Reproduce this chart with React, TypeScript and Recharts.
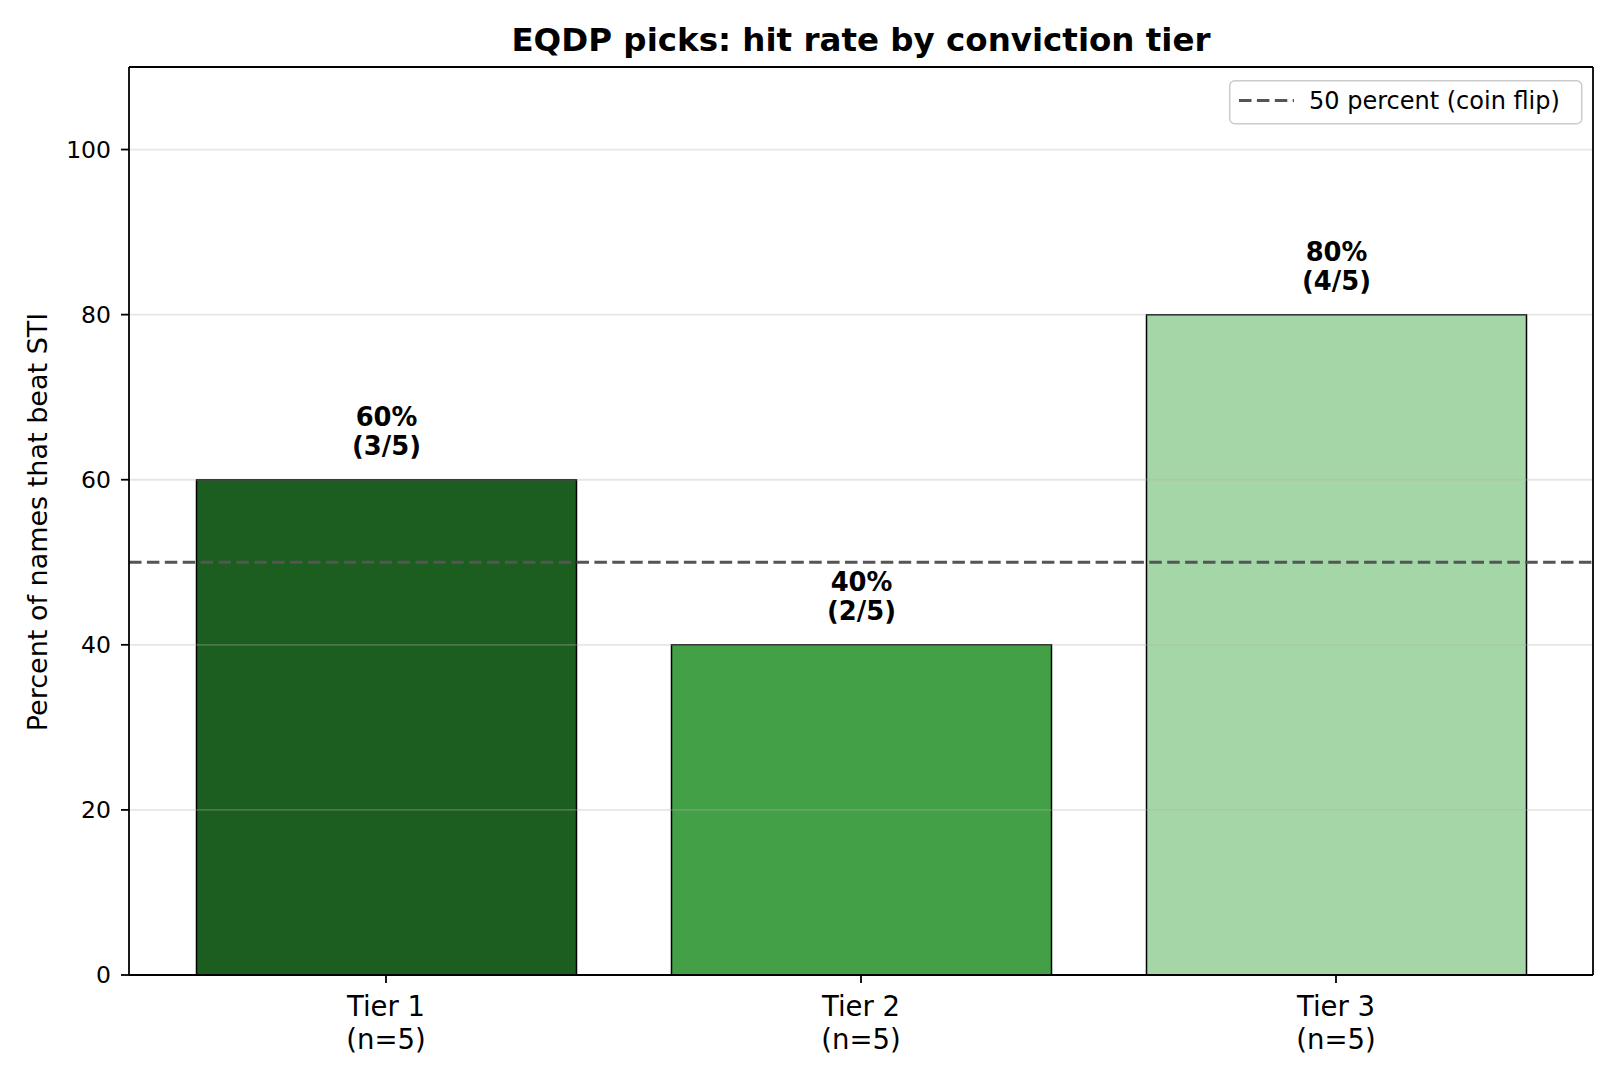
import React from 'react';
import {
  BarChart,
  Bar,
  XAxis,
  YAxis,
  ReferenceLine,
  Cell,
  LabelList,
  Legend,
} from 'recharts';

const tiers = ['Tier 1', 'Tier 2', 'Tier 3'];
const hits = [3, 2, 4];
const totals = [5, 5, 5];
const hitRatePct = [60, 40, 80];
const barColors = ['#1b5e20', '#43a047', '#a5d6a7'];
const yTicks = [0, 20, 40, 60, 80, 100];
const yDomain = [0, 110];
const coinFlipPct = 50;
const titleText = 'EQDP picks: hit rate by conviction tier';
const yLabelText = 'Percent of names that beat STI';
const legendText = '50 percent (coin flip)';

const data = tiers.map((t, i) => ({ tier: t, rate: hitRatePct[i], hits: hits[i], n: totals[i] }));

const FONT = '"DejaVu Sans", "Noto Sans", sans-serif';
const W = 1620;
const H = 1080;

function XTick(props: any) {
  const { x, y, payload } = props;
  const i = typeof payload.index === 'number' ? payload.index : tiers.indexOf(payload.value);
  return (
    <text x={x} y={y} textAnchor="middle" fontFamily={FONT} fontSize={27.5} fill="#000">
      <tspan x={x} dy={33}>{payload.value}</tspan>
      <tspan x={x} dy={33}>{`(n=${totals[i]})`}</tspan>
    </text>
  );
}

function BarLabel(props: any) {
  const vb = props.viewBox || {};
  const x = props.x ?? vb.x;
  const y = props.y ?? vb.y;
  const width = props.width ?? vb.width;
  let i = props.index;
  if (typeof i !== 'number') i = hitRatePct.indexOf(props.value);
  const cx = x + width / 2;
  return (
    <text x={cx} y={y} textAnchor="middle" fontFamily={FONT} fontWeight="bold" fontSize={25.8} fill="#000">
      <tspan x={cx} dy={-54}>{`${hitRatePct[i]}%`}</tspan>
      <tspan x={cx} dy={29.6}>{`(${hits[i]}/${totals[i]})`}</tspan>
    </text>
  );
}

function LegendBox() {
  return (
    <svg width={354} height={45} style={{ display: 'block' }}>
      <rect x={0.75} y={0.75} width={352} height={43} rx={5} ry={5} fill="#fff" fillOpacity={0.8} stroke="#cccccc" strokeWidth={1.5} />
      <line x1={10} y1={20.5} x2={65} y2={20.5} stroke="#555555" strokeWidth={2.8} strokeDasharray="12.5 5.4" />
      <text x={80} y={28.5} fontFamily={FONT} fontSize={24} fill="#000">{legendText}</text>
    </svg>
  );
}

export default function App() {
  return (
    <div style={{ position: 'absolute', left: 0, top: 0, width: W, height: H, background: '#fff' }}>
      <div style={{ position: 'absolute', left: 0, top: 0 }}>
        <BarChart
          width={W}
          height={H}
          data={data}
          margin={{ top: 66, right: 26, bottom: 0, left: 0 }}
        >
          <XAxis
            dataKey="tier"
            type="category"
            height={105}
            padding={{ left: 19.5, right: 19.5 }}
            axisLine={{ stroke: '#000', strokeWidth: 1.8 }}
            tickLine={{ stroke: '#000', strokeWidth: 1.8 }}
            tickSize={8}
            tickMargin={0}
            tick={<XTick />}
            interval={0}
          />
          <XAxis
            xAxisId="top"
            dataKey="tier"
            orientation="top"
            height={1}
            padding={{ left: 19.5, right: 19.5 }}
            tick={false}
            tickLine={false}
            axisLine={{ stroke: '#000', strokeWidth: 1.8 }}
          />
          <YAxis
            type="number"
            domain={yDomain}
            ticks={yTicks}
            width={129}
            axisLine={{ stroke: '#000', strokeWidth: 1.8 }}
            tickLine={{ stroke: '#000', strokeWidth: 1.8 }}
            tickSize={8}
            tickMargin={10}
            tick={{ fill: '#000', fontSize: 23.5, fontFamily: FONT }}
            allowDataOverflow
          />
          <YAxis
            yAxisId="right"
            orientation="right"
            width={1}
            domain={yDomain}
            tick={false}
            tickLine={false}
            axisLine={{ stroke: '#000', strokeWidth: 1.8 }}
          />
          <Bar dataKey="rate" barSize={380} isAnimationActive={false} stroke="#000" strokeWidth={1.5}>
            {data.map((d, i) => (
              <Cell key={d.tier} fill={barColors[i]} stroke="#000" strokeWidth={1.5} />
            ))}
            <LabelList dataKey="rate" content={<BarLabel />} />
          </Bar>
          {yTicks.slice(1).map((v) => (
            <ReferenceLine key={`grid-${v}`} y={v} stroke="#b0b0b0" strokeOpacity={0.32} strokeWidth={1.8} />
          ))}
          <ReferenceLine y={coinFlipPct} stroke="#555555" strokeWidth={2.8} strokeDasharray="12.5 5.4" />
          <Legend
            layout="horizontal"
            verticalAlign="middle"
            align="center"
            wrapperStyle={{ position: 'absolute', top: 80, left: 1229, width: 354, height: 45 }}
            content={() => <LegendBox />}
          />
        </BarChart>
      </div>
      <svg width={W} height={H} style={{ position: 'absolute', left: 0, top: 0, pointerEvents: 'none' }}>
        <text x={861} y={50.7} textAnchor="middle" fontFamily={FONT} fontWeight="bold" fontSize={32.5} fill="#000">
          {titleText}
        </text>
        <text
          x={47.3}
          y={522}
          textAnchor="middle"
          fontFamily={FONT}
          fontSize={27}
          fill="#000"
          transform="rotate(-90 47.3 522)"
        >
          {yLabelText}
        </text>
      </svg>
    </div>
  );
}
